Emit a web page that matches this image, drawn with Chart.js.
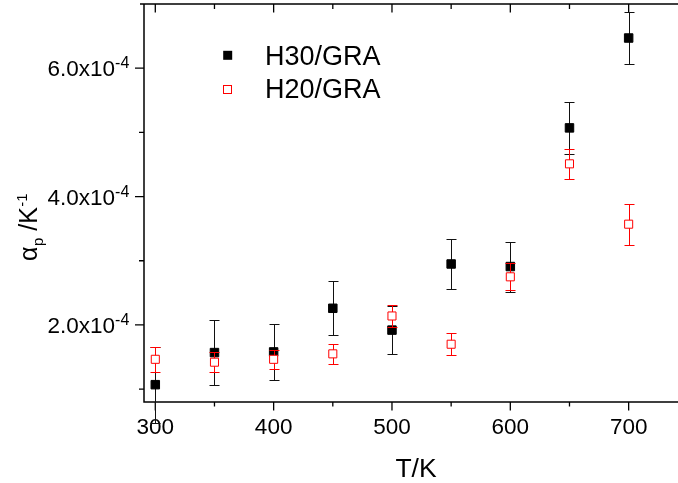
<!DOCTYPE html>
<html><head><meta charset="utf-8">
<script src="https://cdn.jsdelivr.net/npm/chart.js@4.4.0/dist/chart.umd.min.js"></script>
<style>html,body{margin:0;padding:0;background:#fff;}canvas{display:block;}</style>
</head><body>
<canvas id="c" width="678" height="483"></canvas>
<script>
// ---- data ----
const temperatures = [300, 350, 400, 450, 500, 550, 600, 650, 700];
const h30Values = [1.07e-4, 1.57e-4, 1.58e-4, 2.26e-4, 1.92e-4, 2.95e-4, 2.91e-4, 5.07e-4, 6.47e-4];
const h30Errors = [0.59e-4, 0.50e-4, 0.44e-4, 0.42e-4, 0.37e-4, 0.39e-4, 0.39e-4, 0.40e-4, 0.40e-4];
const h20Values = [1.465e-4, 1.42e-4, 1.465e-4, 1.55e-4, 2.14e-4, 1.70e-4, 2.75e-4, 4.51e-4, 3.57e-4];
const h20Errors = [0.19e-4, 0.16e-4, 0.15e-4, 0.16e-4, 0.17e-4, 0.17e-4, 0.21e-4, 0.23e-4, 0.32e-4];
const seriesLabels = ['H30/GRA', 'H20/GRA'];
const xMajorTicks = [300, 400, 500, 600, 700];
const xMinorTicks = [350, 450, 550, 650];
const yMajorTicks = [2e-4, 4e-4, 6e-4];
const yMinorTicks = [1e-4, 3e-4, 5e-4];
const yTickMantissas = ['2.0', '4.0', '6.0'];
const yTickExponent = '-4';
const xTitle = 'T/K';

const FONT = '"Liberation Sans", Arial, Helvetica, sans-serif';

function pts(vals) { return temperatures.map((t, i) => ({x: t, y: vals[i]})); }

const errorBars = {
  id: 'errorBars',
  beforeDatasetDraw(chart, args) {
    const ds = chart.data.datasets[args.index];
    const {ctx, scales: {x, y}} = chart;
    ctx.save();
    ctx.strokeStyle = ds.errColor;
    ctx.lineWidth = 1;
    ds.data.forEach((p, i) => {
      const e = ds.errors[i];
      const px = Math.round(x.getPixelForValue(p.x)) + 0.5;
      const t = Math.round(y.getPixelForValue(p.y + e)) + 0.5;
      const b = Math.round(y.getPixelForValue(p.y - e)) + 0.5;
      ctx.beginPath();
      ctx.moveTo(px, t); ctx.lineTo(px, b);
      ctx.moveTo(px - 5, t); ctx.lineTo(px + 5, t);
      ctx.moveTo(px - 5, b); ctx.lineTo(px + 5, b);
      ctx.stroke();
    });
    ctx.restore();
  }
};

const decor = {
  id: 'decor',
  beforeDatasetsDraw(chart) {
    const {ctx, chartArea: a, scales: {x, y}} = chart;
    ctx.save();
    ctx.strokeStyle = '#000';
    ctx.lineWidth = 1.5;
    ctx.beginPath();
    ctx.moveTo(a.left - 4, a.top); ctx.lineTo(a.right, a.top);
    ctx.moveTo(a.left, a.top); ctx.lineTo(a.left, a.bottom);
    ctx.moveTo(a.left - 0.75, a.bottom); ctx.lineTo(a.right, a.bottom);
    ctx.stroke();
    ctx.lineWidth = 1.3;
    ctx.beginPath();
    xMajorTicks.forEach(v => {
      const px = x.getPixelForValue(v);
      ctx.moveTo(px, a.bottom); ctx.lineTo(px, a.bottom + 8.5);
      ctx.moveTo(px, a.top); ctx.lineTo(px, a.top + 8.5);
    });
    xMinorTicks.forEach(v => {
      const px = x.getPixelForValue(v);
      ctx.moveTo(px, a.bottom); ctx.lineTo(px, a.bottom + 4.5);
      ctx.moveTo(px, a.top); ctx.lineTo(px, a.top + 5);
    });
    yMajorTicks.forEach(v => {
      const py = y.getPixelForValue(v);
      ctx.moveTo(a.left, py); ctx.lineTo(a.left - 9, py);
    });
    yMinorTicks.forEach(v => {
      const py = y.getPixelForValue(v);
      ctx.moveTo(a.left, py); ctx.lineTo(a.left - 5, py);
    });
    ctx.stroke();

    ctx.fillStyle = '#000';
    // x tick labels
    ctx.font = '22.5px ' + FONT;
    ctx.textAlign = 'center';
    ctx.textBaseline = 'alphabetic';
    xMajorTicks.forEach(v => {
      ctx.fillText(String(v), x.getPixelForValue(v), 434.3);
    });
    // y tick labels
    const right = a.left - 14.7;
    yMajorTicks.forEach((v, i) => {
      const py = y.getPixelForValue(v);
      ctx.font = '16px ' + FONT;
      const sw = ctx.measureText(yTickExponent).width;
      ctx.textAlign = 'left';
      ctx.fillText(yTickExponent, right - sw, py + 0.3);
      ctx.font = '22.5px ' + FONT;
      ctx.textAlign = 'right';
      ctx.fillText(yTickMantissas[i] + 'x10', right - sw, py + 8.3);
    });
    // x title
    ctx.font = '26.5px ' + FONT;
    ctx.textAlign = 'center';
    ctx.fillText(xTitle, 416, 476.7);
    // y title (rotated)
    ctx.save();
    ctx.translate(36.7, 261);
    ctx.rotate(-Math.PI / 2);
    ctx.textAlign = 'left';
    let cx = 0;
    ctx.font = '25px ' + FONT;
    ctx.fillText('\u03B1', cx, 0); cx += ctx.measureText('\u03B1').width;
    ctx.font = '15px ' + FONT;
    ctx.fillText('p', cx + 0.5, 6); cx += ctx.measureText('p').width + 0.5;
    ctx.font = '25px ' + FONT;
    ctx.fillText(' /K', cx, 0); cx += ctx.measureText(' /K').width;
    ctx.font = '15px ' + FONT;
    ctx.fillText('-1', cx + 0.5, -10);
    ctx.restore();
    ctx.restore();
  },
  afterDraw(chart) {
    const {ctx} = chart;
    ctx.save();
    // legend
    ctx.fillStyle = '#000';
    ctx.fillRect(223.2, 50.8, 9, 9);
    ctx.strokeStyle = '#ff0000';
    ctx.lineWidth = 1;
    ctx.fillStyle = '#fff';
    ctx.fillRect(223.5, 85.5, 8, 8);
    ctx.strokeRect(223.5, 85.5, 8, 8);
    ctx.fillStyle = '#000';
    ctx.font = '27px ' + FONT;
    ctx.textAlign = 'left';
    ctx.textBaseline = 'alphabetic';
    ctx.fillText(seriesLabels[0], 265, 65.2);
    ctx.fillText(seriesLabels[1], 265, 97.8);
    ctx.restore();
  }
};

new Chart(document.getElementById('c'), {
  type: 'scatter',
  data: {
    datasets: [
      {
        label: seriesLabels[0], data: pts(h30Values), errors: h30Errors, errColor: '#111',
        pointStyle: 'rect', pointRadius: 6, pointHoverRadius: 6, borderWidth: 1,
        backgroundColor: '#000', borderColor: '#000', order: 2, clip: false
      },
      {
        label: seriesLabels[1], data: pts(h20Values), errors: h20Errors, errColor: '#ff0000',
        pointStyle: 'rect', pointRadius: 5.7, pointHoverRadius: 5.7, borderWidth: 1,
        backgroundColor: '#fff', borderColor: '#ff0000', order: 1, clip: false
      }
    ]
  },
  options: {
    responsive: false,
    animation: false,
    events: [],
    layout: {autoPadding: false, padding: {left: 144, top: 4, right: 0, bottom: 81}},
    plugins: {legend: {display: false}, tooltip: {enabled: false}},
    scales: {
      x: {type: 'linear', display: false, min: 290.45, max: 741.7},
      y: {type: 'linear', display: false, min: 0.8e-4, max: 7.0e-4}
    }
  },
  plugins: [errorBars, decor]
});
</script>
</body></html>
